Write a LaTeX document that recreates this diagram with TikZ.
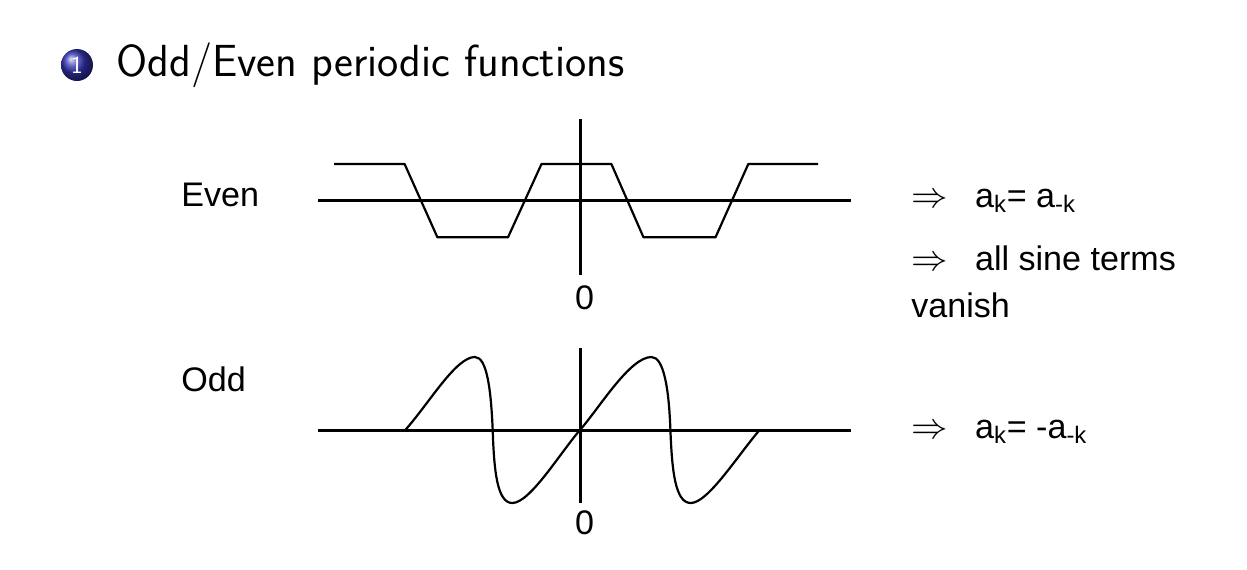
\documentclass[tikz,border=0pt]{standalone}
\usepackage{fontspec}
\usepackage{tikz}
\usetikzlibrary{positioning,calc}

\newfontfamily\slidefont{Liberation Sans}
\definecolor{ballblue}{rgb}{0.2,0.2,0.7}
\newcommand{\impl}{$\Rightarrow$\hspace{0.8em}}

\begin{document}
\begin{tikzpicture}[
  x=0.02cm, y=-0.02cm,
  heading/.style={font=\sffamily\fontsize{25.6}{30}\selectfont, anchor=base west, inner sep=0pt},
  lbl/.style={font=\slidefont\fontsize{19.4}{23}\selectfont, inner sep=0pt},
  rhs/.style={font=\slidefont\fontsize{19.4}{26.7}\selectfont, anchor=base west, inner sep=0pt, align=left},
  axis/.style={line width=1.7pt},
  curve/.style={line width=1.25pt, line join=round}
]
\useasboundingbox (0,0) rectangle (1247,569);

% title line
\node[circle, minimum size=0.64cm, inner sep=0pt, shading=ball, ball color=ballblue,
      text=white, font=\sffamily\fontsize{14}{14}\selectfont] (ball) at (77,65) {1};
\node[heading] (ttl) at (116,76) {Odd/Even periodic functions};

% even
\node[lbl, anchor=base west] (even) at (181,206) {Even};
\draw[axis] (318,200.7) -- (851,200.7);
\draw[axis] (580,119.3) coordinate (etop) -- (580,275) coordinate (ebot);
\node[lbl, anchor=base] (ezero) at (584.5,309) {0};
\draw[curve] (334,164) -- (404.6,164) -- (437.4,237.3) -- (508,237.3) -- (541.5,164)
  -- (611.4,164) -- (643.5,237.3) -- (715.5,237.3) -- (748.3,164) -- (818.2,164);

\node[rhs] (esym) at (911,207) {\impl a\textsubscript{k}= a\textsubscript{-k}};
\node[rhs] (esine) at (911,317) {\impl all sine terms\\vanish};

% odd
\node[lbl, anchor=base west] (odd) at (181,391) {Odd};
\draw[axis] (318,430) -- (851,430);
\draw[axis] (580,348.3) coordinate (otop) -- (580,503.3) coordinate (obot);
\node[lbl, anchor=base] (ozero) at (584.5,534) {0};
\draw[curve] (405.3,430) .. controls (430,402) and (456,357) .. (474.9,357)
  .. controls (487,357) and (491,390) .. (492.7,430)
  .. controls (494,470) and (497,503) .. (512.3,503)
  .. controls (530,503) and (560,453) .. (580,430)
  .. controls (600,407) and (630,357) .. (651.5,357)
  .. controls (664,357) and (669,390) .. (670.4,430)
  .. controls (672,470) and (675,503) .. (690.8,503)
  .. controls (708,503) and (738,455) .. (759.6,430);

\node[rhs] (osym) at (911,438) {\impl a\textsubscript{k}= -a\textsubscript{-k}};

\end{tikzpicture}
\end{document}
